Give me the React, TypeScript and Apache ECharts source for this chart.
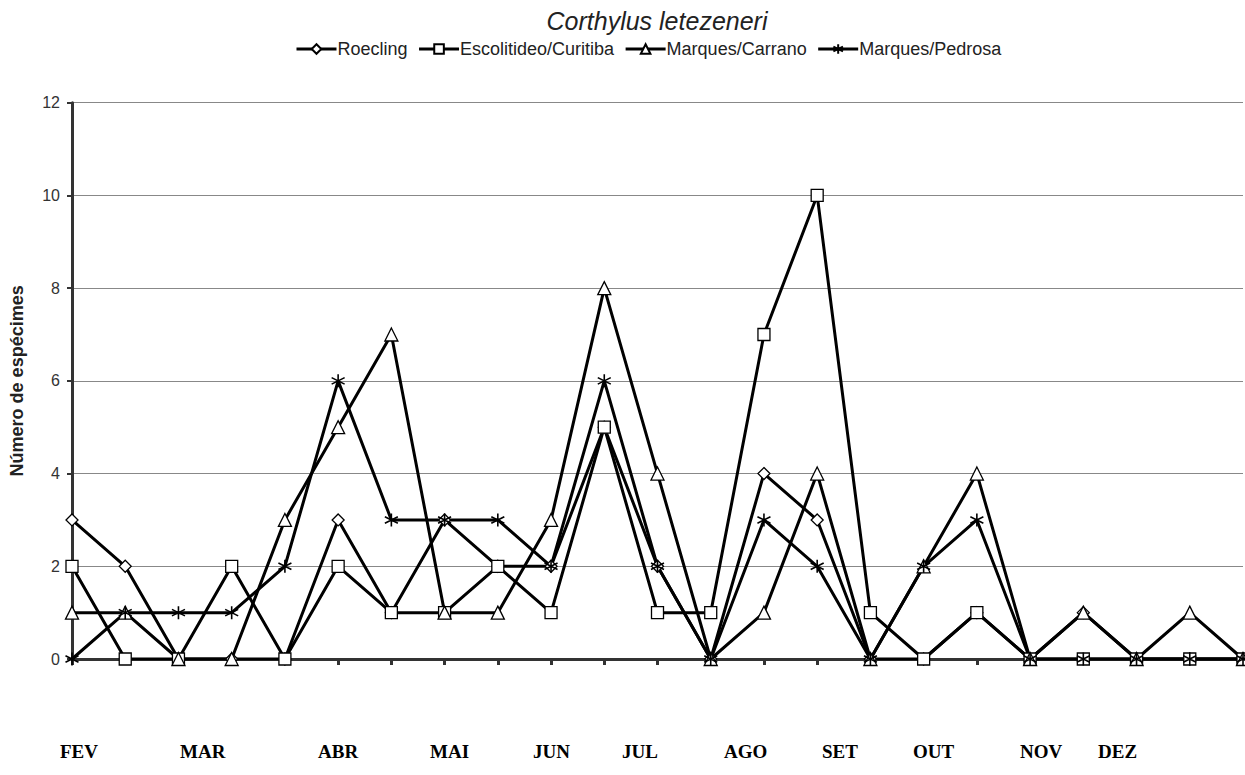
import React, { useEffect, useRef } from "react";
import * as echarts from "echarts";

const categories: string[] = ["1","2","3","4","5","6","7","8","9","10","11","12","13","14","15","16","17","18","19","20","21","22","23"];
const roecling: number[] = [3,2,0,0,0,3,1,3,2,2,5,2,0,4,3,0,0,1,0,1,0,0,0];
const escolitideo: number[] = [2,0,0,2,0,2,1,1,2,1,5,1,1,7,10,1,0,1,0,0,0,0,0];
const carrano: number[] = [1,1,0,0,3,5,7,1,1,3,8,4,0,1,4,0,2,4,0,1,0,1,0];
const pedrosa: number[] = [0,1,1,1,2,6,3,3,3,2,6,2,0,3,2,0,2,3,0,0,0,0,0];
const yTicks: number[] = [0, 2, 4, 6, 8, 10, 12];
const months: string[] = ["FEV","MAR","ABR","MAI","JUN","JUL","AGO","SET","OUT","NOV","DEZ"];
const monthX: number[] = [60, 180, 318, 430, 533, 622, 724, 822, 913, 1020, 1098];

const ASTERISK = "path://M0,-6L0,6M-5.2,-3L5.2,3M-5.2,3L5.2,-3";

export default function App() {
  const ref = useRef<HTMLDivElement>(null);
  useEffect(() => {
    if (!ref.current) return;
    const chart = echarts.init(ref.current, undefined, { renderer: "svg" });
    const font = "'Liberation Sans', Arial, sans-serif";
    const mk = (name: string, data: number[], symbol: string, size: number, bw: number) => ({
      name,
      type: "line",
      data,
      symbol,
      symbolSize: size,
      showSymbol: true,
      lineStyle: { color: "#000", width: 3 },
      itemStyle: { color: symbol === ASTERISK ? "none" : "#fff", borderColor: "#000", borderWidth: bw },
      emphasis: { disabled: true },
    });
    chart.setOption({
      animation: false,
      backgroundColor: "#fff",
      title: {
        text: "Corthylus letezeneri",
        left: 652,
        textAlign: "center",
        top: 3,
        textStyle: { fontFamily: font, fontStyle: "italic", fontWeight: "normal", fontSize: 25, color: "#222" },
      },
      legend: {
        top: 35,
        left: 290,
        width: 900,
        itemWidth: 40,
        itemHeight: 12,
        itemGap: 10,
        lineStyle: { width: 3, color: "#000" },
        textStyle: { fontFamily: font, fontSize: 18, color: "#222", padding: [0, 0, 0, -4] },
        data: ["Roecling", "Escolitideo/Curitiba", "Marques/Carrano", "Marques/Pedrosa"],
      },
      grid: { left: 69, right: 2, top: 102.7, bottom: 116, containLabel: false },
      xAxis: {
        type: "category",
        data: categories,
        boundaryGap: false,
        axisLine: { show: true, lineStyle: { color: "#333", width: 3 } },
        axisTick: { show: true, inside: false, length: 6, lineStyle: { color: "#333", width: 3 } },
        axisLabel: { show: false },
        splitLine: { show: false },
      },
      yAxis: {
        type: "value",
        min: yTicks[0],
        max: yTicks[yTicks.length - 1],
        interval: 2,
        name: "Número de espécimes",
        nameLocation: "middle",
        nameGap: 46,
        nameTextStyle: { fontFamily: font, fontSize: 18, fontWeight: "bold", color: "#222" },
        axisLine: { show: true, lineStyle: { color: "#333", width: 3 } },
        axisTick: { show: true, length: 5, lineStyle: { color: "#333", width: 2 } },
        axisLabel: { fontFamily: font, fontSize: 16, color: "#333", margin: 12 },
        splitLine: { show: true, lineStyle: { color: "#888", width: 1 } },
      },
      series: [
        mk("Roecling", roecling, "diamond", 12, 1.3),
        mk("Escolitideo/Curitiba", escolitideo, "rect", 12, 1.3),
        mk("Marques/Carrano", carrano, "triangle", 13, 1.3),
        mk("Marques/Pedrosa", pedrosa, ASTERISK, 13, 1.6),
      ],
      graphic: months.map((m, i) => ({
        type: "text",
        left: monthX[i],
        top: 742,
        style: { text: m, fontFamily: "'Liberation Serif', 'Times New Roman', serif", fontWeight: "bold", fontSize: 19, fill: "#000" },
      })),
    });
    return () => chart.dispose();
  }, []);
  return <div ref={ref} style={{ position: "fixed", left: 0, top: 0, width: 1245, height: 775 }} />;
}
